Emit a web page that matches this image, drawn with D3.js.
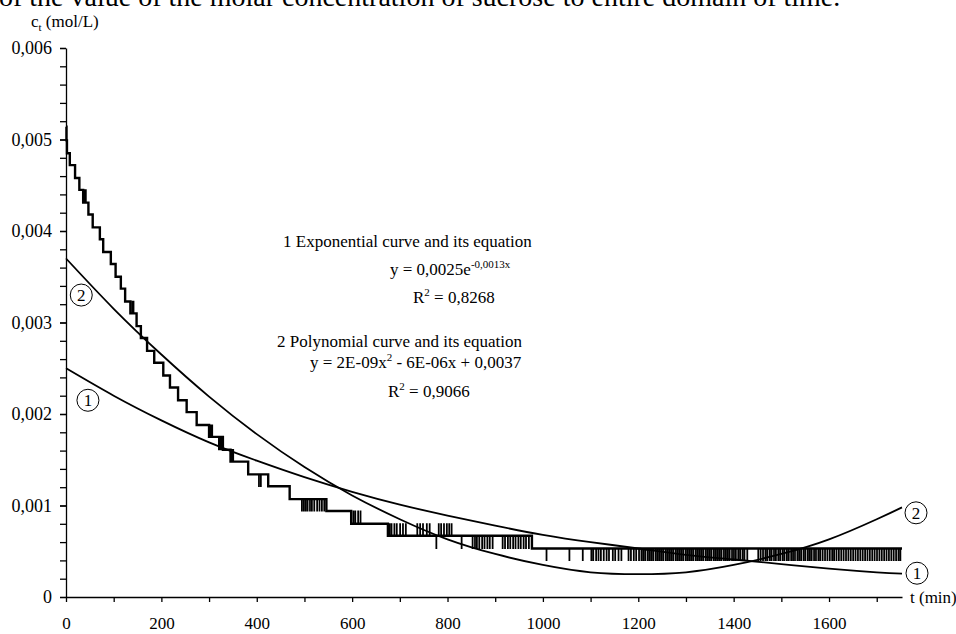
<!DOCTYPE html>
<html>
<head>
    <title>sucrose concentration</title>
    <script src="https://d3js.org/d3.v7.min.js"></script>
    <style>
        body { margin: 0; background: #fff; }
        svg { display: block; font-family: "Liberation Serif", "Times New Roman", serif; }
        .axis path, .axis line { stroke: #000; stroke-width: 1.3; }
        .axis text { font-family: "Liberation Serif", serif; font-size: 17px; fill: #000; }
        .note { font-size: 17px; fill: #000; }
    </style>
</head>
<body>
<svg id="chart" width="956" height="634"></svg>
<script>
    // measured staircase: time (min) where each concentration level starts
    var stepTimes = [0, 1, 2, 8, 19, 28, 36, 47, 56, 71, 78, 94, 104, 115, 124, 135, 148, 157, 170,
        185, 204, 218, 235, 253, 274, 300, 329, 345, 382, 424, 469, 546, 598, 675, 977];
    var stepValues = [0.00514, 0.00499, 0.00485, 0.00472, 0.00458, 0.00445, 0.00431, 0.00418, 0.00404,
        0.00391, 0.00377, 0.00364, 0.00350, 0.00337, 0.00323, 0.00310, 0.00296, 0.00283, 0.00269,
        0.00256, 0.00242, 0.00229, 0.00215, 0.00202, 0.00188, 0.00175, 0.00161, 0.00148, 0.00134,
        0.00121, 0.00107, 0.00094, 0.00080, 0.00067, 0.00053];
    var endTime = 1753;

    // single-sample flicker of the reading, grouped by the value it jumps to
    var spikeValues = [0.00445, 0.00323, 0.00188, 0.00161, 0.00121, 0.00094, 0.00080, 0.00053, 0.00040];
    var spikeTimes = [
        [38, 41],
        [138, 141],
        [303, 306],
        [320, 323, 326, 347, 350],
        [404, 408],
        [494, 498, 502, 506, 511, 515, 520, 526, 531, 536, 541, 602, 606, 612, 617],
        [678, 682, 688, 693, 700, 706, 712, 736, 742, 748, 756, 762, 781, 786, 792, 798, 803, 808],
        [776, 829, 852, 857, 861, 866, 872, 877, 883, 888, 894, 915, 920, 926, 931, 937, 942, 948,
            953, 959, 964, 970],
        [1007, 1055, 1083, 1101, 1105, 1111, 1116, 1121, 1127, 1133, 1138, 1146, 1151, 1158, 1164,
            1179, 1184, 1190, 1195, 1201, 1206, 1210, 1214, 1219, 1223, 1227, 1231, 1236, 1240, 1244,
            1248, 1252, 1257, 1261, 1265, 1269, 1273, 1278, 1282, 1286, 1290, 1294, 1299, 1303, 1307,
            1311, 1315, 1320, 1324, 1328, 1332, 1336, 1341, 1345, 1349, 1353, 1358, 1362, 1366, 1370,
            1374, 1379, 1383, 1387, 1391, 1396, 1400, 1404, 1409, 1413, 1418, 1422, 1428, 1451, 1456,
            1461, 1466, 1470, 1475, 1479, 1484, 1488, 1493, 1497, 1502, 1506, 1511, 1515, 1520, 1524,
            1528, 1533, 1537, 1541, 1546, 1550, 1555, 1559, 1563, 1568, 1572, 1577, 1581, 1586, 1591,
            1596, 1601, 1606, 1610, 1615, 1620, 1625, 1630, 1635, 1640, 1645, 1650, 1655, 1660, 1665,
            1670, 1675, 1680, 1685, 1690, 1695, 1700, 1705, 1710, 1715, 1720, 1725, 1730, 1735, 1740,
            1745, 1749]
    ];

    // trend curves read along the time axis
    var trendTimes = [0, 100, 200, 300, 400, 500, 600, 700, 800, 900, 1000, 1100, 1200, 1300, 1400,
        1500, 1600, 1700, 1753];
    var expValues = [0.00250, 0.00220, 0.00193, 0.00169, 0.00149, 0.00131, 0.00115, 0.00101, 0.00089,
        0.00078, 0.00068, 0.00060, 0.00053, 0.00046, 0.00041, 0.00036, 0.00031, 0.00027, 0.000256];
    var polyValues = [0.00370, 0.00315, 0.00265, 0.00219, 0.00178, 0.00142, 0.00111, 0.00085, 0.00063,
        0.00047, 0.00035, 0.00027, 0.00025, 0.00027, 0.00035, 0.00047, 0.00063, 0.00085, 0.00098];

    var xTicks = [0, 100, 200, 300, 400, 500, 600, 700, 800, 900, 1000, 1100, 1200, 1300, 1400, 1500, 1600, 1700];
    var xLabels = [0, 200, 400, 600, 800, 1000, 1200, 1400, 1600];
    var yMajor = [0, 0.001, 0.002, 0.003, 0.004, 0.005, 0.006];
    var yLabels = ["0", "0,001", "0,002", "0,003", "0,004", "0,005", "0,006"];

    var svg = d3.select('#chart');

    var x = d3.scaleLinear().domain([0, endTime]).range([66, 902]);
    var y = d3.scaleLinear().domain([0, 0.006]).range([597, 48]);

    // page text cut off at the top of the crop
    svg.append('text')
        .attr('x', -1)
        .attr('y', 6)
        .style('font-size', '28px')
        .text('of the value of the molar concentration of sucrose to entire domain of time.');

    // axes
    svg.append('g')
        .attr('class', 'axis')
        .attr('transform', 'translate(0,' + y(0) + ')')
        .call(d3.axisBottom(x).tickValues(xTicks).tickSize(5).tickSizeOuter(0)
            .tickFormat(function(d) { return xLabels.indexOf(d) >= 0 ? d : ''; }))
        .call(function(g) {
            g.selectAll('.tick text').attr('y', 32).attr('dy', 0);
        });

    svg.append('g')
        .attr('class', 'axis')
        .attr('transform', 'translate(' + x(0) + ',0)')
        .call(d3.axisLeft(y).tickValues(d3.range(0, 0.00601, 0.0002)).tickSize(6).tickSizeOuter(0).tickFormat(''))
        .call(function(g) { g.select('.domain').remove(); });

    svg.append('g')
        .attr('class', 'axis')
        .attr('transform', 'translate(' + x(0) + ',0)')
        .call(d3.axisLeft(y).tickValues(yMajor).tickSize(6).tickPadding(8).tickSizeOuter(0)
            .tickFormat(function(d, i) { return yLabels[i]; }))
        .call(function(g) { g.selectAll('.tick text').style('font-size', '18px'); });

    svg.append('text')
        .attr('x', 910)
        .attr('y', 603)
        .style('font-size', '17px')
        .text('t (min)');

    var yTitle = svg.append('text')
        .attr('x', 31)
        .attr('y', 27)
        .style('font-size', '17px');
    yTitle.append('tspan').text('c');
    yTitle.append('tspan').attr('dy', 4).style('font-size', '11px').text('t');
    yTitle.append('tspan').attr('dy', -4).text(' (mol/L)');

    // staircase of measured values
    var steps = stepTimes.map(function(t, i) { return [t, stepValues[i]]; });
    steps.push([endTime, stepValues[stepValues.length - 1]]);

    var stepLine = d3.line()
        .x(function(d) { return x(d[0]); })
        .y(function(d) { return y(d[1]); })
        .curve(d3.curveStepAfter);

    svg.append('path')
        .datum(steps)
        .attr('d', stepLine)
        .attr('fill', 'none')
        .attr('stroke', '#000')
        .attr('stroke-width', 2.4);

    function levelAt(t) {
        var i = d3.bisectRight(stepTimes, t) - 1;
        return stepValues[Math.max(i, 0)];
    }

    var spikePath = '';
    spikeTimes.forEach(function(times, g) {
        times.forEach(function(t) {
            var base = y(levelAt(t));
            spikePath += 'M' + x(t) + ',' + base + 'V' + y(spikeValues[g]) + 'H' + x(t + 1.2) + 'V' + base;
        });
    });

    svg.append('path')
        .attr('d', spikePath)
        .attr('fill', 'none')
        .attr('stroke', '#000')
        .attr('stroke-width', 1.2);

    // trend curves
    var trendLine = d3.line()
        .x(function(d) { return x(d[0]); })
        .y(function(d) { return y(d[1]); })
        .curve(d3.curveNatural);

    [expValues, polyValues].forEach(function(vals) {
        svg.append('path')
            .datum(trendTimes.map(function(t, i) { return [t, vals[i]]; }))
            .attr('d', trendLine)
            .attr('fill', 'none')
            .attr('stroke', '#000')
            .attr('stroke-width', 1.8);
    });

    // circled curve numbers
    var markers = [
        { label: '2', t: 32, c: 0.00330 },
        { label: '1', t: 46, c: 0.00215 },
        { label: '2', t: 1753, c: 0.00092, dx: 14 },
        { label: '1', t: 1753, c: 0.00026, dx: 15 }
    ];
    markers.forEach(function(m) {
        var cx = x(m.t) + (m.dx || 0);
        var cy = y(m.c);
        svg.append('circle')
            .attr('cx', cx).attr('cy', cy).attr('r', 11)
            .attr('fill', '#fff').attr('stroke', '#000').attr('stroke-width', 1);
        svg.append('text')
            .attr('x', cx).attr('y', cy + 6)
            .attr('text-anchor', 'middle')
            .style('font-size', '17px')
            .text(m.label);
    });

    // equations
    var notes = [
        { x: 283, y: 247, parts: [['1 Exponential curve and its equation']] },
        { x: 390, y: 275, parts: [['y = 0,0025e'], ['-0,0013x', 'sup']] },
        { x: 413, y: 303, parts: [['R'], ['2', 'sup'], [' = 0,8268']] },
        { x: 277, y: 347, parts: [['2 Polynomial curve and its equation']] },
        { x: 310, y: 368, parts: [['y = 2E-09x'], ['2', 'sup'], [' - 6E-06x + 0,0037']] },
        { x: 388, y: 397, parts: [['R'], ['2', 'sup'], [' = 0,9066']] }
    ];
    notes.forEach(function(n) {
        var t = svg.append('text').attr('class', 'note').attr('x', n.x).attr('y', n.y);
        var up = false;
        n.parts.forEach(function(p) {
            var sp = t.append('tspan').text(p[0]);
            if (p[1] === 'sup') {
                sp.attr('dy', -7).style('font-size', '11px');
                up = true;
            } else if (up) {
                sp.attr('dy', 7);
                up = false;
            }
        });
    });
</script>
</body>
</html>
